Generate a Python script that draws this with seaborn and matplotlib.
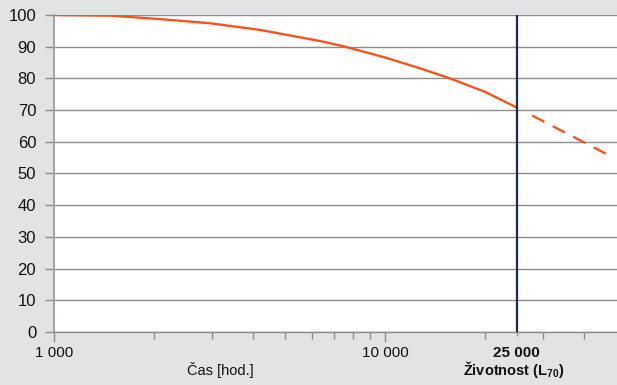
import matplotlib
matplotlib.use("Agg")
import matplotlib.pyplot as plt
import matplotlib.ticker as mticker
import pandas as pd
import seaborn as sns

# DATA
hours = [1000, 1480, 2090, 2960, 4190, 6360, 7570, 10000, 13000, 15710, 20000, 25000]
lumen = [100.0, 99.8, 98.7, 97.4, 95.3, 91.8, 90.0, 86.6, 82.9, 80.0, 75.8, 70.8]
hours_ext = [25000, 50000]
lumen_ext = [70.8, 54.5]
life_hours = 25000

y_ticks = list(range(0, 101, 10))
x_major = [1000, 10000, 25000]
x_major_labels = ["1 000", "10 000", "25 000"]
x_minor = [2000, 3000, 4000, 5000, 6000, 7000, 8000, 9000, 20000, 30000, 40000]
x_label = "Čas [hod.]"
life_label = r"Životnost (L$_{\mathbf{70}}$)"

# STYLE
sns.set_theme(style="white")
plt.rcParams["font.family"] = ["Liberation Sans", "DejaVu Sans"]
plt.rcParams["mathtext.fontset"] = "custom"
plt.rcParams["mathtext.rm"] = "Liberation Sans"
plt.rcParams["mathtext.bf"] = "Liberation Sans:bold"
plt.rcParams["lines.scale_dashes"] = False

BG = "#e2e3e5"
GRID = "#8c8c8c"
ORANGE = "#f0561e"
NAVY = "#1b2a4e"
TXT = "#111111"

W, H = 617, 385
fig = plt.figure(figsize=(W / 100, H / 100), dpi=100, facecolor=BG)
ax = fig.add_axes([54 / W, (H - 332) / H, (616.5 - 54) / W, (332 - 15) / H])
ax.set_facecolor("white")

df = pd.DataFrame({"hours": hours, "lumen": lumen})
df_ext = pd.DataFrame({"hours": hours_ext, "lumen": lumen_ext})

sns.lineplot(data=df, x="hours", y="lumen", ax=ax, color=ORANGE, linewidth=1.7, zorder=3)
sns.lineplot(data=df_ext, x="hours", y="lumen", ax=ax, color=ORANGE, linewidth=1.7, zorder=3)
# dashes: a longer gap right after the life line, then regular dashes
ax.lines[-1].set_linestyle((0, (0.01, 12.5, 9.8, 6.8, 9.8, 6.8, 9.8, 6.8, 9.8, 20)))

ax.axvline(life_hours, color=NAVY, linewidth=1.6, zorder=4)

ax.set_xscale("log")
ax.set_xlim(1000, 50000)
ax.set_ylim(0, 100)
ax.set_yticks(y_ticks)
ax.xaxis.set_major_locator(mticker.FixedLocator(x_major))
ax.xaxis.set_major_formatter(mticker.FixedFormatter(x_major_labels))
ax.xaxis.set_minor_locator(mticker.FixedLocator(x_minor))
ax.xaxis.set_minor_formatter(mticker.NullFormatter())

ax.yaxis.grid(True, color=GRID, linewidth=1.0)
ax.xaxis.grid(False)
ax.set_axisbelow(True)

for side in ["top", "right"]:
    ax.spines[side].set_visible(False)
ax.spines["left"].set_color("#a3a3a3")
ax.spines["left"].set_linewidth(1.4)
ax.spines["bottom"].set_color(GRID)
ax.spines["bottom"].set_linewidth(1.0)

ax.tick_params(axis="y", which="major", left=True, length=6.3, width=1.0, color=GRID,
               pad=6.5, labelsize=12, labelcolor=TXT)
ax.tick_params(axis="x", which="major", bottom=True, length=7.5, width=1.0, color=GRID,
               pad=2.5, labelsize=11, labelcolor=TXT)
ax.tick_params(axis="x", which="minor", bottom=True, length=4.8, width=1.0, color=GRID)

ax.set_xlabel("")
ax.set_ylabel("")

fig.canvas.draw()
ax.get_xticklabels()[2].set_fontweight("bold")
ax.xaxis.get_major_ticks()[2].tick1line.set_color(NAVY)
ax.xaxis.get_major_ticks()[2].tick1line.set_markersize(3)

fig.text(220 / W, 1 - 375 / H, x_label, ha="center", va="baseline", fontsize=10.5, color=TXT)
fig.text(514 / W, 1 - 374.5 / H, life_label, ha="center", va="baseline", fontsize=10.5,
         fontweight="bold", color=TXT)

fig.savefig("out.png", dpi=100, facecolor=BG)
